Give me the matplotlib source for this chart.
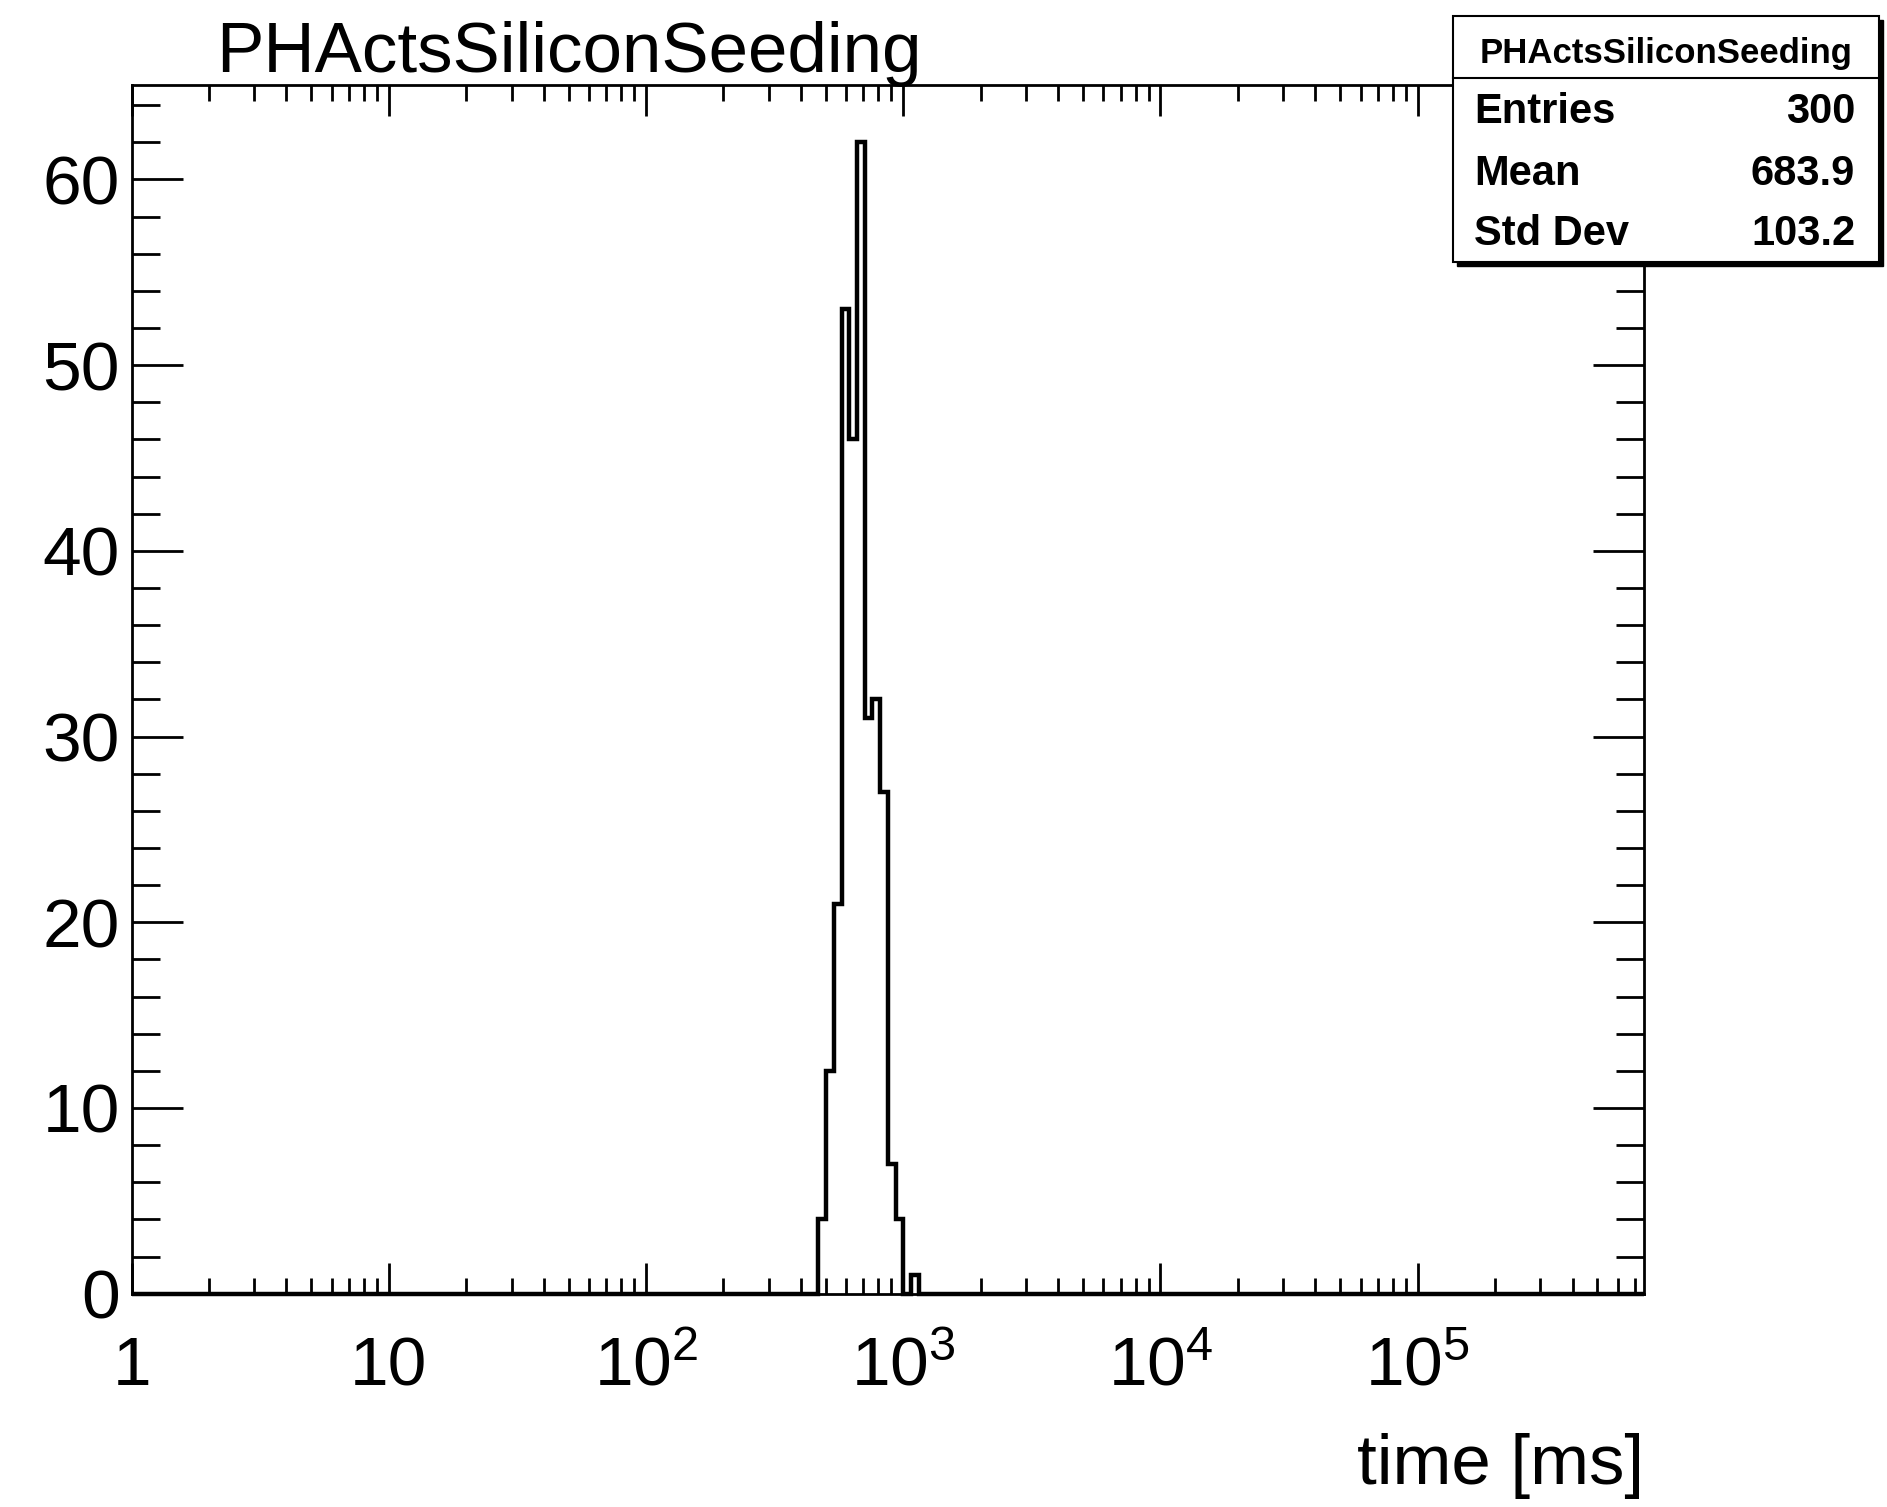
import matplotlib
matplotlib.use("Agg")
import matplotlib.pyplot as plt
import numpy as np
from matplotlib.lines import Line2D
from matplotlib.patches import Rectangle
from matplotlib.ticker import FixedLocator, LogLocator, MultipleLocator, NullFormatter

# log10 bins of width 0.03 starting at 1 ms
bin_width_log = 0.03
n_bins = 196
first_filled_bin = 89
filled_counts = [4, 12, 21, 53, 46, 62, 31, 32, 27, 7, 4, 0, 1]

x_ticks = [1, 10, 100, 1000, 10000, 100000]
x_tick_labels = ["1", "10", "$10^{2}$", "$10^{3}$", "$10^{4}$", "$10^{5}$"]
y_ticks = [0, 10, 20, 30, 40, 50, 60]
y_max = 65.07

hist_name = "PHActsSiliconSeeding"
x_title = "time [ms]"
stat_names = ["Entries", "Mean", "Std Dev"]
stat_values = ["300", "683.9", "103.2"]

plt.rcParams["font.family"] = ["Liberation Sans", "DejaVu Sans"]
plt.rcParams["mathtext.fontset"] = "custom"
plt.rcParams["mathtext.rm"] = "Liberation Sans"
plt.rcParams["mathtext.default"] = "regular"

W, H = 1887, 1507


def fx(x):
    return x / W


def fy(y):
    return 1 - y / H


edges = 10 ** (bin_width_log * np.arange(n_bins + 1))
counts = np.zeros(n_bins)
counts[first_filled_bin:first_filled_bin + len(filled_counts)] = filled_counts

fig = plt.figure(figsize=(W / 100, H / 100), dpi=100)
left, right, top, bottom = 131.6, 1644, 85.3, 1293.7
ax = fig.add_axes([fx(left), fy(bottom), (right - left) / W, (bottom - top) / H])

ax.stairs(counts, edges, color="black", linewidth=3.2, baseline=0, clip_on=False)

ax.set_xscale("log")
ax.set_xlim(edges[0], edges[-1])
ax.set_ylim(0, y_max)

ax.xaxis.set_major_locator(FixedLocator(x_ticks))
ax.set_xticklabels(x_tick_labels)
ax.xaxis.set_minor_locator(LogLocator(base=10, subs=np.arange(2, 10), numticks=30))
ax.xaxis.set_minor_formatter(NullFormatter())
ax.set_yticks(y_ticks)
ax.yaxis.set_minor_locator(MultipleLocator(2))

ax.tick_params(which="both", direction="in", top=True, right=True, width=2, color="black")
ax.tick_params(axis="x", which="major", length=22, pad=66, labelsize=50)
ax.tick_params(axis="x", which="minor", length=11.5)
ax.tick_params(axis="y", which="major", length=37, pad=8.6, labelsize=50)
ax.tick_params(axis="y", which="minor", length=20)
for lab in ax.get_xticklabels():
    lab.set_verticalalignment("baseline")
for sp in ax.spines.values():
    sp.set_linewidth(2)

fig.text(fx(216), fy(72), hist_name, fontsize=51, ha="left", va="baseline")
fig.text(fx(1644), fy(1484), x_title, fontsize=51, ha="right", va="baseline")

# stats box
bx0, bx1, by0, by1 = 1453, 1879, 16, 262
shadow = Rectangle((fx(bx0 + 4), fy(by1 + 4)), (bx1 - bx0) / W, (by1 - by0) / H,
                   transform=fig.transFigure, facecolor="black", edgecolor="black", zorder=5)
box = Rectangle((fx(bx0), fy(by1)), (bx1 - bx0) / W, (by1 - by0) / H,
                transform=fig.transFigure, facecolor="white", edgecolor="black",
                linewidth=1.5, zorder=6)
fig.add_artist(shadow)
fig.add_artist(box)
fig.add_artist(Line2D([fx(bx0), fx(bx1)], [fy(78), fy(78)], transform=fig.transFigure,
                      color="black", linewidth=1.5, zorder=7))
fig.text(fx((bx0 + bx1) / 2), fy(63), hist_name, fontsize=25, fontweight="bold",
         ha="center", va="baseline", zorder=8)
row_base = [123, 185, 245]
for name, val, yb in zip(stat_names, stat_values, row_base):
    fig.text(fx(1474), fy(yb), name, fontsize=30, fontweight="bold", ha="left", va="baseline", zorder=8)
    fig.text(fx(1855), fy(yb), val, fontsize=30, fontweight="bold", ha="right", va="baseline", zorder=8)

fig.savefig("out.png", dpi=100, facecolor="white")
